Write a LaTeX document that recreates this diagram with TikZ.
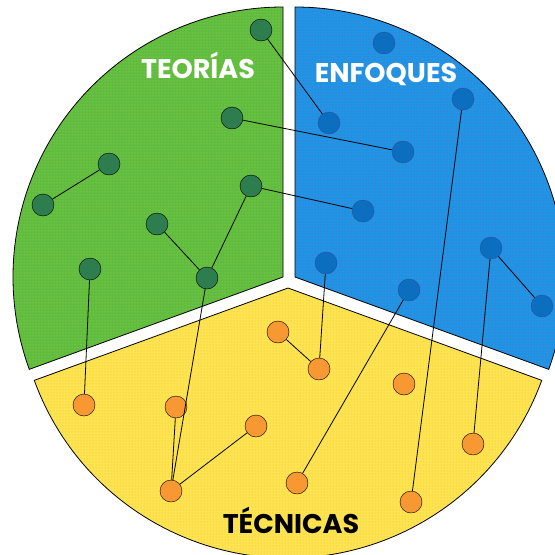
\documentclass[tikz,border=0pt]{standalone}
\usepackage{fontspec}
\setmainfont{Poppins}
\usetikzlibrary{patterns}

\definecolor{verde}{RGB}{96,188,62}
\definecolor{verdeClaro}{RGB}{160,216,82}
\definecolor{verdeNodo}{RGB}{46,125,78}
\definecolor{azul}{RGB}{30,150,228}
\definecolor{azulPunto}{RGB}{120,85,205}
\definecolor{azulNodo}{RGB}{12,110,190}
\definecolor{azulBorde}{RGB}{40,80,160}
\definecolor{amarillo}{RGB}{253,228,80}
\definecolor{amarilloPunto}{RGB}{245,192,60}
\definecolor{naranja}{RGB}{248,152,50}

\begin{document}
\begin{tikzpicture}[x=1pt, y=-1pt,
	teoria/.style={circle, draw=black, fill=verdeNodo, minimum size=22pt, inner sep=0pt},
	enfoque/.style={circle, draw=azulBorde, fill=azulNodo, minimum size=22pt, inner sep=0pt},
	tecnica/.style={circle, draw=black, fill=naranja, minimum size=22pt, inner sep=0pt},
	rotulo/.style={anchor=base, font=\fontsize{27}{29}\selectfont\bfseries},
	enlace/.style={black, line width=0.8pt}]
				% Рамка рисунка
				\useasboundingbox (0,0) rectangle (555,555);
				\clip (0,0) rectangle (555,555);
				
				% Вершины секторов
				\coordinate (OT) at (283,277);
				\coordinate (OE) at (295,277);
				\coordinate (OC) at (288,288);
				
				% Секторы
				\path[preaction={fill=verde}, pattern=dots, pattern color=verdeClaro, draw=black, line width=0.8pt]
					(OT) -- ++(-90:270) arc[start angle=-90, end angle=-200, radius=270] -- cycle;
				\path[preaction={fill=azul}, pattern=dots, pattern color=azulPunto, draw=black, line width=0.8pt]
					(OE) -- ++(20:270) arc[start angle=20, end angle=-90, radius=270] -- cycle;
				\path[preaction={fill=amarillo}, pattern=dots, pattern color=amarilloPunto, draw=black, line width=0.8pt]
					(OC) -- ++(-200:270) arc[start angle=-200, end angle=-340, radius=270] -- cycle;
				
				% Подписи секторов
				\node[rotulo, text=white] (teorias) at (198,78) {TEORÍAS};
				\node[rotulo, text=white] (enfoques) at (386,82) {ENFOQUES};
				\node[rotulo, text=black] (tecnicas) at (291,533) {TÉCNICAS};
				
				% Теории
				\node[teoria] (T1) at (261,30) {};
				\node[teoria] (T2) at (232,118) {};
				\node[teoria] (T3) at (109,164) {};
				\node[teoria] (T4) at (43,205) {};
				\node[teoria] (T5) at (251,186) {};
				\node[teoria] (T6) at (157,224) {};
				\node[teoria] (T7) at (207,278) {};
				\node[teoria] (T8) at (90,269) {};
				
				% Подходы
				\node[enfoque] (E1) at (384,43) {};
				\node[enfoque] (E2) at (329,123) {};
				\node[enfoque] (E3) at (403,152) {};
				\node[enfoque] (E4) at (463,99) {};
				\node[enfoque] (E5) at (363,211) {};
				\node[enfoque] (E6) at (491,248) {};
				\node[enfoque] (E7) at (326,263) {};
				\node[enfoque] (E8) at (409,290) {};
				\node[enfoque] (E9) at (542,306) {};
				
				% Техники
				\node[tecnica] (C1) at (278,332) {};
				\node[tecnica] (C2) at (319,369) {};
				\node[tecnica] (C3) at (404,384) {};
				\node[tecnica] (C4) at (84,405) {};
				\node[tecnica] (C5) at (176,407) {};
				\node[tecnica] (C6) at (256,426) {};
				\node[tecnica] (C7) at (473,444) {};
				\node[tecnica] (C8) at (171,491) {};
				\node[tecnica] (C9) at (297,483) {};
				\node[tecnica] (C10) at (411,502) {};
				
				% Связи
				\draw[enlace] (T1) -- (E2);
				\draw[enlace] (T2) -- (E3);
				\draw[enlace] (T3) -- (T4);
				\draw[enlace] (T5) -- (E5);
				\draw[enlace] (T6) -- (T7);
				\draw[enlace] (T7) -- (T5);
				\draw[enlace] (T7) -- (C8);
				\draw[enlace] (T8) -- (C4);
				\draw[enlace] (E4) -- (C10);
				\draw[enlace] (E6) -- (E9);
				\draw[enlace] (E6) -- (C7);
				\draw[enlace] (E7) -- (C2);
				\draw[enlace] (E8) -- (C9);
				\draw[enlace] (C1) -- (C2);
				\draw[enlace] (C5) -- (C8);
				\draw[enlace] (C6) -- (C8);
			\end{tikzpicture}
\end{document}
